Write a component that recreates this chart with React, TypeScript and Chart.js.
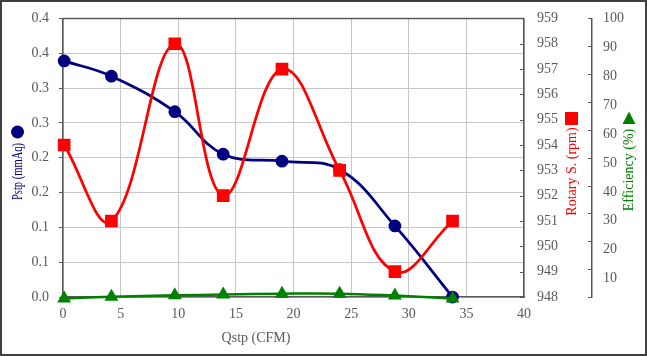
import React, { useEffect, useRef } from 'react';
import { Chart, registerables } from 'chart.js';

Chart.register(...registerables);

// ---- data ----
const qstp = [0.1, 4.2, 9.7, 13.9, 19.0, 24.0, 28.8, 33.8];
const pstp = [0.339, 0.317, 0.266, 0.205, 0.195, 0.183, 0.102, 0.0];
const rpm = [954, 951, 958, 952, 957, 953, 949, 951];
const efficiency = [-0.5, 0.1, 0.6, 0.9, 1.2, 1.2, 0.5, -0.5];
const pstpTickLabels = ['0.0', '0.1', '0.1', '0.2', '0.2', '0.3', '0.3', '0.4', '0.4'];
const effTickValues = [10, 20, 30, 40, 50, 60, 70, 80, 90, 100];
const rpmTickValues = [948, 949, 950, 951, 952, 953, 954, 955, 956, 957, 958, 959];

const FONT = "'Liberation Serif', 'Times New Roman', serif";
const TICK = '#595959';
const AXIS = '#595959';
const GRID = '#c6c6c6';
const NAVY = '#000080';
const RED = '#ff0000';
const GREEN = '#008000';

const decorPlugin = {
  id: 'decor',
  afterDraw(chart: any) {
    const ctx = chart.ctx;
    const ca = chart.chartArea;
    const sRpm = chart.scales.y1;
    const sEff = chart.scales.y2;
    ctx.save();
    // outer border
    ctx.strokeStyle = '#404040';
    ctx.lineWidth = 2;
    ctx.strokeRect(1, 1, chart.width - 2, chart.height - 2);
    // top plot line
    ctx.strokeStyle = AXIS;
    ctx.lineWidth = 1.5;
    ctx.beginPath();
    ctx.moveTo(ca.left, ca.top);
    ctx.lineTo(ca.right, ca.top);
    ctx.stroke();
    // inward ticks
    ctx.lineWidth = 1.2;
    ctx.beginPath();
    rpmTickValues.forEach((v) => {
      const y = Math.round(sRpm.getPixelForValue(v)) + 0.5;
      ctx.moveTo(sRpm.left - 4, y);
      ctx.lineTo(sRpm.left, y);
    });
    [0, ...effTickValues].forEach((v) => {
      const y = Math.round(sEff.getPixelForValue(v)) + 0.5;
      ctx.moveTo(sEff.left - 4, y);
      ctx.lineTo(sEff.left, y);
    });
    ctx.stroke();
    // efficiency labels
    ctx.fillStyle = TICK;
    ctx.font = `14px ${FONT}`;
    ctx.textAlign = 'left';
    ctx.textBaseline = 'middle';
    effTickValues.forEach((v) => {
      const y = sEff.getPixelForValue(v) + ((100 - v) / 100) * 10.5;
      ctx.fillText(String(v), sEff.left + 11, y);
    });
    // x title
    ctx.fillStyle = TICK;
    ctx.textAlign = 'center';
    ctx.fillText('Qstp (CFM)', 256, 338);
    const vtext = (t: string, x: number, y: number, color: string, font: string, maxW?: number) => {
      ctx.save();
      ctx.translate(x, y);
      ctx.rotate(-Math.PI / 2);
      ctx.fillStyle = color;
      ctx.font = font;
      ctx.textAlign = 'center';
      ctx.textBaseline = 'middle';
      if (maxW) ctx.fillText(t, 0, 0, maxW);
      else ctx.fillText(t, 0, 0);
      ctx.restore();
    };
    vtext('Pstp (mmAq)', 18, 171.5, NAVY, `14px ${FONT}`, 57);
    ctx.fillStyle = NAVY;
    ctx.beginPath();
    ctx.arc(17.5, 132, 6.5, 0, Math.PI * 2);
    ctx.fill();
    vtext('Rotary S. (rpm)', 572.5, 171.5, RED, `14px ${FONT}`);
    ctx.fillStyle = RED;
    ctx.fillRect(565, 112, 13, 13);
    vtext('Efficiency (%)', 629, 170, GREEN, `14px ${FONT}`);
    ctx.fillStyle = GREEN;
    ctx.beginPath();
    ctx.moveTo(629, 111.5);
    ctx.lineTo(635.5, 124);
    ctx.lineTo(622.5, 124);
    ctx.closePath();
    ctx.fill();
    ctx.restore();
  },
};

export default function App() {
  const ref = useRef<HTMLCanvasElement | null>(null);
  useEffect(() => {
    document.body.style.margin = '0';
    const canvas = ref.current!;
    const mk = (ys: number[]) => qstp.map((x, i) => ({ x, y: ys[i] }));
    const chart = new Chart(canvas, {
      type: 'line',
      data: {
        datasets: [
          {
            label: 'Pstp',
            data: mk(pstp),
            yAxisID: 'y',
            borderColor: NAVY,
            backgroundColor: NAVY,
            pointBackgroundColor: NAVY,
            pointBorderColor: NAVY,
            borderWidth: 2.75,
            pointRadius: 5,
            pointStyle: 'circle',
            tension: 0.4,
            clip: false as any,
            order: 3,
          },
          {
            label: 'Rotary',
            data: mk(rpm),
            yAxisID: 'y1',
            borderColor: RED,
            backgroundColor: RED,
            pointBackgroundColor: RED,
            pointBorderColor: RED,
            borderWidth: 2.75,
            pointRadius: 7,
            pointStyle: 'rect',
            tension: 0.4,
            clip: false as any,
            order: 2,
          },
          {
            label: 'Efficiency',
            data: mk(efficiency),
            yAxisID: 'y2',
            borderColor: GREEN,
            backgroundColor: GREEN,
            pointBackgroundColor: GREEN,
            pointBorderColor: GREEN,
            borderWidth: 2.5,
            pointRadius: 5.5,
            pointStyle: 'triangle',
            tension: 0.4,
            clip: false as any,
            order: 1,
          },
        ],
      },
      options: {
        animation: false,
        responsive: false,
        maintainAspectRatio: false,
        layout: { padding: { top: 18, left: 0, right: 0, bottom: 0 } },
        plugins: { legend: { display: false }, tooltip: { enabled: false } },
        scales: {
          x: {
            type: 'linear',
            min: 0,
            max: 40,
            ticks: { stepSize: 5, color: TICK, font: { family: FONT, size: 14 }, padding: 9 },
            grid: { color: GRID, drawTicks: false },
            border: { display: true, color: AXIS, width: 1.5 },
            afterFit: (s: any) => { s.height = 59; },
          },
          y: {
            position: 'left',
            min: 0,
            max: 0.4,
            ticks: {
              stepSize: 0.05,
              color: TICK,
              font: { family: FONT, size: 14 },
              padding: 10,
              callback: (_v: any, i: number) => pstpTickLabels[i],
            },
            grid: { color: GRID, tickLength: 4, tickColor: AXIS },
            border: { display: true, color: AXIS, width: 1.5 },
            afterFit: (s: any) => { s.width = 63; },
          },
          y1: {
            position: 'right',
            min: 948,
            max: 959,
            ticks: { stepSize: 1, color: TICK, font: { family: FONT, size: 14 }, padding: 5 },
            grid: { display: false },
            border: { display: true, color: AXIS, width: 1.5 },
            afterFit: (s: any) => { s.width = 68; },
          },
          y2: {
            position: 'right',
            min: 0,
            max: 100,
            ticks: { display: false, stepSize: 10 },
            grid: { display: false },
            border: { display: true, color: AXIS, width: 1.5 },
            afterFit: (s: any) => { s.width = 55; },
          },
        },
      } as any,
      plugins: [decorPlugin],
    });
    return () => chart.destroy();
  }, []);
  return (
    <div style={{ width: 647, height: 356 }}>
      <canvas ref={ref} width={647} height={356} style={{ display: 'block' }} />
    </div>
  );
}
